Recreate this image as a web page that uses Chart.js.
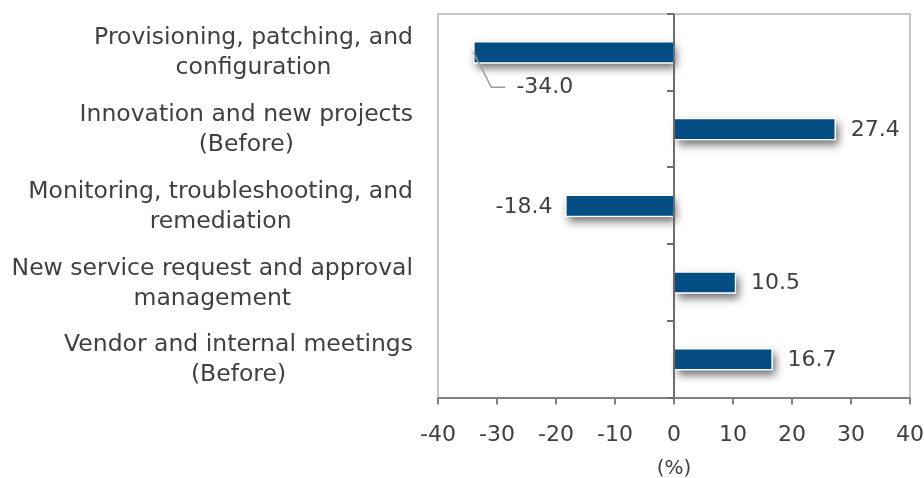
<!DOCTYPE html>
<html>
<head>
<meta charset="utf-8">
<script src="https://cdn.jsdelivr.net/npm/chart.js@4/dist/chart.umd.min.js"></script>
<style>
  html, body { margin: 0; padding: 0; background: #fff; }
  #wrap { width: 924px; height: 478px; }
</style>
</head>
<body>
<div id="wrap"><canvas id="bar-chart" width="924" height="478"></canvas></div>
<script>
const categories = [
    ['Provisioning, patching, and', 'configuration'],
    ['Innovation and new projects', '(Before)'],
    ['Monitoring, troubleshooting, and', 'remediation'],
    ['New service request and approval', 'management'],
    ['Vendor and internal meetings', '(Before)']
];
const changes = [-34.0, 27.4, -18.4, 10.5, 16.7];
const xMin = -40;
const xMax = 40;
const xStep = 10;
const axisTitle = '(%)';

const FONT = "'DejaVu Sans', sans-serif";
const TEXT = '#404040';

// bar shadow like the original office chart
// (the bar element clips itself, so the shadow is painted underneath first)
const barShadow = {
    id: 'barShadow',
    beforeDatasetsDraw(chart) {
        const ctx = chart.ctx;
        ctx.save();
        ctx.shadowColor = 'rgba(0,0,0,0.55)';
        ctx.shadowBlur = 8;
        ctx.shadowOffsetX = 3;
        ctx.shadowOffsetY = 5;
        ctx.fillStyle = '#ffffff';
        chart.getDatasetMeta(0).data.forEach(bar => {
            const p = bar.getProps(['x', 'y', 'base', 'height']);
            const left = Math.min(p.x, p.base);
            const w = Math.abs(p.x - p.base);
            ctx.fillRect(left, p.y - p.height / 2, w, p.height);
        });
        ctx.restore();
    }
};

// frame, zero line, category ticks, category labels and value labels
const decorations = {
    id: 'decorations',
    afterDatasetsDraw(chart) {
        const ctx = chart.ctx;
        const area = chart.chartArea;
        const x = chart.scales.x;
        const y = chart.scales.y;
        const zero = x.getPixelForValue(0);

        ctx.save();
        // light frame (top / left / right)
        ctx.strokeStyle = '#b3b3b3';
        ctx.lineWidth = 1.5;
        ctx.beginPath();
        ctx.moveTo(area.left, area.bottom);
        ctx.lineTo(area.left, area.top);
        ctx.lineTo(area.right, area.top);
        ctx.lineTo(area.right, area.bottom);
        ctx.stroke();

        // zero line with category ticks
        ctx.strokeStyle = '#6d6d6d';
        ctx.lineWidth = 2;
        ctx.beginPath();
        ctx.moveTo(zero, area.top);
        ctx.lineTo(zero, area.bottom);
        for (let i = 0; i <= categories.length; i++) {
            const ty = Math.round(y.getPixelForValue(i - 0.5));
            ctx.moveTo(zero - 7, ty);
            ctx.lineTo(zero, ty);
        }
        ctx.stroke();

        // category labels, lines centred, block right aligned
        ctx.font = '23.5px ' + FONT;
        ctx.fillStyle = TEXT;
        ctx.textAlign = 'center';
        ctx.textBaseline = 'middle';
        const lineH = 30;
        const right = area.left - 25;
        categories.forEach((lines, i) => {
            const w = Math.max(...lines.map(l => ctx.measureText(l).width));
            const cx = right - w / 2;
            const cy = y.getPixelForValue(i) + 1;
            const top = cy - (lines.length - 1) * lineH / 2;
            lines.forEach((l, j) => ctx.fillText(l, cx, top + j * lineH));
        });

        // value labels
        ctx.font = '22px ' + FONT;
        const meta = chart.getDatasetMeta(0);
        meta.data.forEach((bar, i) => {
            const v = changes[i];
            const txt = v.toFixed(1);
            const tw = ctx.measureText(txt).width;
            ctx.fillStyle = TEXT;
            if (v >= 0) {
                ctx.textAlign = 'left';
                ctx.fillText(txt, bar.x + 15, bar.y + 1);
            } else if (bar.x - 13 - tw > area.left) {
                ctx.textAlign = 'right';
                ctx.fillText(txt, bar.x - 13, bar.y + 1);
            } else {
                // not enough room on the left: put it below with a leader line
                const ly = bar.y + 35;
                ctx.strokeStyle = '#9a9a9a';
                ctx.lineWidth = 1.5;
                ctx.beginPath();
                ctx.moveTo(bar.x, bar.y);
                ctx.lineTo(bar.x + 18, ly);
                ctx.lineTo(bar.x + 32, ly);
                ctx.stroke();
                ctx.textAlign = 'left';
                ctx.fillText(txt, bar.x + 43, ly);
            }
        });
        ctx.restore();
    }
};

new Chart(document.getElementById('bar-chart').getContext('2d'), {
    type: 'bar',
    data: {
        labels: categories,
        datasets: [{
            data: changes,
            backgroundColor: '#034d82',
            borderColor: '#ffffff',
            borderWidth: 1.5,
            barThickness: 22
        }]
    },
    plugins: [barShadow, decorations],
    options: {
        indexAxis: 'y',
        responsive: false,
        animation: false,
        layout: {
            padding: { left: 438, top: 14, right: 14, bottom: 0 }
        },
        plugins: {
            legend: { display: false },
            tooltip: { enabled: false }
        },
        scales: {
            x: {
                min: xMin,
                max: xMax,
                afterFit(scale) {
                    // tick padding should not eat horizontal room
                    scale.paddingLeft = 0;
                    scale.paddingRight = 0;
                },
                ticks: {
                    stepSize: xStep,
                    color: TEXT,
                    font: { family: FONT, size: 22 },
                    padding: 17
                },
                grid: {
                    drawOnChartArea: false,
                    color: '#808080',
                    lineWidth: 2,
                    tickLength: 7
                },
                border: { color: '#808080', width: 2 },
                title: {
                    display: true,
                    text: axisTitle,
                    color: TEXT,
                    font: { family: FONT, size: 20 },
                    padding: { top: -8, bottom: -3 }
                }
            },
            y: {
                display: false
            }
        }
    }
});
</script>
</body>
</html>
